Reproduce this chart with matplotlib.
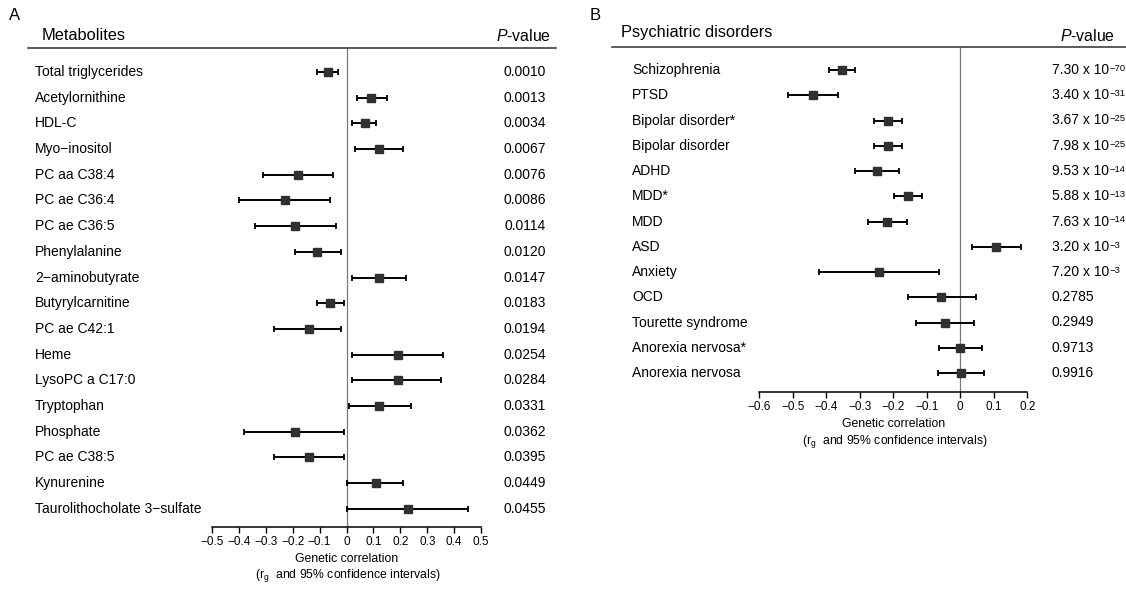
import numpy as np
import matplotlib
matplotlib.use('Agg')
import matplotlib.pyplot as plt
from matplotlib.lines import Line2D
from matplotlib import transforms

plt.rcParams['font.family'] = ['Liberation Sans', 'DejaVu Sans']
plt.rcParams['mathtext.fontset'] = 'custom'
plt.rcParams['mathtext.rm'] = 'Liberation Sans'
plt.rcParams['mathtext.it'] = 'Liberation Sans:italic'

# Panel A: metabolites
met_names = ['Total triglycerides', 'Acetylornithine', 'HDL-C', 'Myo\u2212inositol',
             'PC aa C38:4', 'PC ae C36:4', 'PC ae C36:5', 'Phenylalanine',
             '2\u2212aminobutyrate', 'Butyrylcarnitine', 'PC ae C42:1', 'Heme',
             'LysoPC a C17:0', 'Tryptophan', 'Phosphate', 'PC ae C38:5',
             'Kynurenine', 'Taurolithocholate 3\u2212sulfate']
met_rg = [-0.07, 0.09, 0.07, 0.12, -0.18, -0.23, -0.19, -0.11, 0.12,
          -0.06, -0.14, 0.19, 0.19, 0.12, -0.19, -0.14, 0.11, 0.23]
met_lo = [-0.11, 0.04, 0.02, 0.03, -0.31, -0.40, -0.34, -0.19, 0.02,
          -0.11, -0.27, 0.02, 0.02, 0.01, -0.38, -0.27, 0.0, 0.0]
met_hi = [-0.03, 0.15, 0.11, 0.21, -0.05, -0.06, -0.04, -0.02, 0.22,
          -0.01, -0.02, 0.36, 0.35, 0.24, -0.01, -0.01, 0.21, 0.45]
met_p = ['0.0010', '0.0013', '0.0034', '0.0067', '0.0076', '0.0086', '0.0114',
         '0.0120', '0.0147', '0.0183', '0.0194', '0.0254', '0.0284', '0.0331',
         '0.0362', '0.0395', '0.0449', '0.0455']
met_ticks = [-0.5, -0.4, -0.3, -0.2, -0.1, 0, 0.1, 0.2, 0.3, 0.4, 0.5]

# Panel B: psychiatric disorders
psy_names = ['Schizophrenia', 'PTSD', 'Bipolar disorder*', 'Bipolar disorder', 'ADHD',
             'MDD*', 'MDD', 'ASD', 'Anxiety', 'OCD', 'Tourette syndrome',
             'Anorexia nervosa*', 'Anorexia nervosa']
psy_rg = [-0.354, -0.441, -0.215, -0.216, -0.250, -0.156, -0.219, 0.107, -0.244,
          -0.057, -0.046, -0.001, 0.001]
psy_lo = [-0.393, -0.515, -0.257, -0.258, -0.315, -0.198, -0.276, 0.036, -0.422,
          -0.155, -0.133, -0.065, -0.068]
psy_hi = [-0.314, -0.366, -0.174, -0.174, -0.183, -0.113, -0.160, 0.180, -0.065,
          0.046, 0.042, 0.064, 0.071]
# "^" separates the base from the exponent
psy_p = ['7.30 x 10^\u221270', '3.40 x 10^\u221231', '3.67 x 10^\u221225',
         '7.98 x 10^\u221225', '9.53 x 10^\u221214', '5.88 x 10^\u221213',
         '7.63 x 10^\u221214', '3.20 x 10^\u22123', '7.20 x 10^\u22123',
         '0.2785', '0.2949', '0.9713', '0.9916']
psy_ticks = [-0.6, -0.5, -0.4, -0.3, -0.2, -0.1, 0, 0.1, 0.2]

W, H = 1126, 590


def fx(x):
    return x / W


def fy(y):
    return 1 - y / H


def tick_label(v):
    if abs(v) < 1e-9:
        return '0'
    return f'{v:.1f}'.replace('-', '\u2212')


def panel(fig, box, row0, step, names, rg, lo, hi, pvals, ticks, p_x, p_ha, label_x):
    left, right, top, bottom = box
    ax = fig.add_axes([fx(left), fy(bottom), (right - left) / W, (bottom - top) / H])
    n = len(names)
    y = np.arange(n)
    rg = np.array(rg)
    err = [rg - np.array(lo), np.array(hi) - rg]
    ax.errorbar(rg, y, xerr=err, fmt='s', color='black', ecolor='black',
                mfc='#303030', mec='#303030', ms=5.2, elinewidth=1.4,
                capsize=2.4, capthick=1.3, zorder=3)
    ax.axvline(0, color='#7a7a7a', lw=0.9, zorder=1)
    ax.set_xlim(ticks[0], ticks[-1])
    ax.set_ylim((bottom - row0) / step, (top - row0) / step)
    for s in ['top', 'right', 'left']:
        ax.spines[s].set_visible(False)
    ax.spines['bottom'].set_linewidth(1.1)
    ax.set_yticks([])
    ax.set_xticks(ticks)
    ax.set_xticklabels([tick_label(t) for t in ticks])
    ax.tick_params(axis='x', length=4.5, width=1.0, pad=2.0, labelsize=8.5)
    ax.patch.set_visible(False)

    trans = transforms.blended_transform_factory(fig.transFigure, ax.transData)
    for i in range(n):
        ax.text(fx(label_x), i, names[i], transform=trans, ha='left', va='center',
                fontsize=10, clip_on=False)
        base, _, expo = pvals[i].partition('^')
        t = ax.text(fx(p_x), i, base, transform=trans, ha=p_ha, va='center',
                    fontsize=10, clip_on=False)
        if expo:
            ax.annotate(expo, xy=(1, 1), xycoords=t, xytext=(0.4, -0.6),
                        textcoords='offset points', ha='left', va='top', fontsize=6.8)
    return ax


fig = plt.figure(figsize=(11.26, 5.9), dpi=100)

# Panel A
axA = panel(fig, (212, 481, 48, 527), 72, 25.7, met_names, met_rg, met_lo, met_hi,
            met_p, met_ticks, 546, 'right', 35)
fig.add_artist(Line2D([fx(28), fx(556)], [fy(48), fy(48)], color='#404040', lw=1.2))
fig.text(fx(9), fy(15), 'A', fontsize=12, va='center', ha='left')
fig.text(fx(42), fy(35), 'Metabolites', fontsize=11.8, va='center', ha='left')
fig.text(fx(551), fy(36), '$P$-value', fontsize=11.4, va='center', ha='right')
fig.text(fx(346.5), fy(559), 'Genetic correlation', fontsize=8.8, va='center', ha='center')
fig.text(fx(347.5), fy(576), '(r$_\\mathregular{g}$  and 95% confidence intervals)',
         fontsize=8.8, va='center', ha='center')

# Panel B
axB = panel(fig, (759.3, 1027.3, 47, 391.7), 70, 25.25, psy_names, psy_rg, psy_lo,
            psy_hi, psy_p, psy_ticks, 1052, 'left', 632)
fig.add_artist(Line2D([fx(612), fx(1126)], [fy(47), fy(47)], color='#404040', lw=1.2))
fig.text(fx(590), fy(16), 'B', fontsize=12, va='center', ha='left')
fig.text(fx(621), fy(33), 'Psychiatric disorders', fontsize=11.8, va='center', ha='left')
fig.text(fx(1115), fy(36), '$P$-value', fontsize=11.4, va='center', ha='right')
fig.text(fx(893.3), fy(424), 'Genetic correlation', fontsize=8.8, va='center', ha='center')
fig.text(fx(895), fy(441), '(r$_\\mathregular{g}$  and 95% confidence intervals)',
         fontsize=8.8, va='center', ha='center')

fig.savefig('out.png', dpi=100)
